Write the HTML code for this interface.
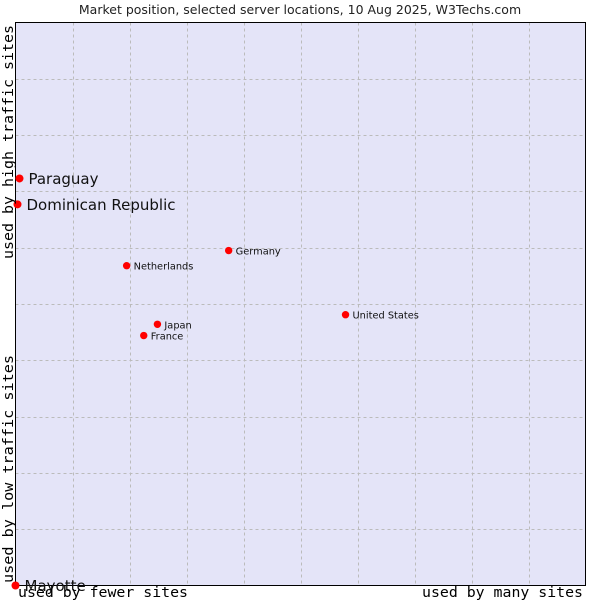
<!DOCTYPE html>
<html><head><meta charset="utf-8"><style>
body{margin:0;background:#fff;}
svg{display:block;font-family:"DejaVu Sans","Liberation Sans",sans-serif;}
.mono{font-family:"DejaVu Sans Mono","Liberation Mono",monospace;}
</style></head><body>
<svg id="chart" width="600" height="600" xmlns="http://www.w3.org/2000/svg">
<text x="300" y="14" text-anchor="middle" font-size="12.5" fill="#222">Market position, selected server locations, 10 Aug 2025, W3Techs.com</text>
<rect x="15.5" y="22.5" width="570" height="563" fill="#e4e4f8" stroke="none"/>
<g id="grid"></g>
<rect x="15.5" y="22.5" width="570" height="563" fill="none" stroke="#000" stroke-width="1"/>
<g id="points"></g>
<text class="mono" x="18" y="597" font-size="14.5" textLength="170" lengthAdjust="spacingAndGlyphs" fill="#000">used by fewer sites</text>
<text class="mono" x="422" y="597" font-size="14.5" textLength="161" lengthAdjust="spacingAndGlyphs" fill="#000">used by many sites</text>
<text class="mono" transform="translate(13,583) rotate(-90)" font-size="14.5" textLength="228" lengthAdjust="spacingAndGlyphs" fill="#000">used by low traffic sites</text>
<text class="mono" transform="translate(13,259) rotate(-90)" font-size="14.5" textLength="234" lengthAdjust="spacingAndGlyphs" fill="#000">used by high traffic sites</text>
</svg>
<script>
const countries=["Paraguay","Dominican Republic","Germany","Netherlands","United States","Japan","France","Mayotte"];
const xValues=[0.7,0.35,37.4,19.5,57.9,24.9,22.5,0];
const yValues=[72.3,67.7,59.5,56.8,48.1,46.4,44.4,0];
const bigLabel=[true,true,false,false,false,false,false,true];
const L=15.5,T=22.5,W=570,H=563;
const sx=v=>L+v/100*W, sy=v=>T+H-v/100*H;
const NS="http://www.w3.org/2000/svg";
const grid=document.getElementById('grid');
for(let i=1;i<10;i++){
  const l=document.createElementNS(NS,'line');
  
  
  const x=Math.round(sx(i*10))+0.5;
  l.setAttribute('x1',x);l.setAttribute('x2',x);l.setAttribute('y1',T);l.setAttribute('y2',T+H);
  l.setAttribute('stroke','#bbbbbb');l.setAttribute('stroke-dasharray','3,3');
  grid.appendChild(l);
  const h=document.createElementNS(NS,'line');
  
  
  const y=Math.round(sy(i*10))+0.5;
  h.setAttribute('x1',L);h.setAttribute('x2',L+W);h.setAttribute('y1',y);h.setAttribute('y2',y);
  h.setAttribute('stroke','#bbbbbb');h.setAttribute('stroke-dasharray','3,3');
  grid.appendChild(h);
}
const pts=document.getElementById('points');
countries.forEach((c,i)=>{
  const x=sx(xValues[i]),y=sy(yValues[i]);
  const d=document.createElementNS(NS,'circle');
  
  
  d.setAttribute('cx',x);d.setAttribute('cy',y);d.setAttribute('r',bigLabel[i]?4:3.7);d.setAttribute('fill','#f00');
  pts.appendChild(d);
  const t=document.createElementNS(NS,'text');
  
  
  t.setAttribute('x',x+(bigLabel[i]?9:7));
  t.setAttribute('y',y+(bigLabel[i]?5.5:4));
  t.setAttribute('font-size',bigLabel[i]?15:9.8);
  t.setAttribute('fill','#111');
  t.textContent=c;
  pts.appendChild(t);
});
</script>
</body></html>
